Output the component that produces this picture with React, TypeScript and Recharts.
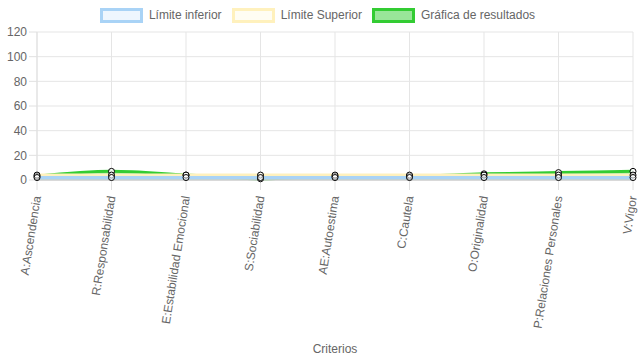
import React from 'react';
import { ComposedChart, Area, XAxis, YAxis, CartesianGrid } from 'recharts';

const categories = [
  'A:Ascendencia',
  'R:Responsabilidad',
  'E:Estabilidad Emocional',
  'S:Sociabilidad',
  'AE:Autoestima',
  'C:Cautela',
  'O:Originalidad',
  'P:Relaciones Personales',
  'V:Vigor',
];
const limiteInferior = [2, 2, 2, 2, 2, 2, 2, 2, 2];
const limiteSuperior = [4, 4, 4, 4, 4, 4, 4, 4, 4];
const resultados = [3, 7, 4, 1, 3, 3, 5, 6, 7];
const yTicks = [0, 20, 40, 60, 80, 100, 120];

const data = categories.map((c, i) => ({
  name: c,
  inf: limiteInferior[i],
  sup: limiteSuperior[i],
  res: resultados[i],
}));

const FONT = '"Liberation Sans", Arial, Helvetica, sans-serif';

const legendItems = [
  { label: 'Límite inferior', stroke: '#a9d3f6', fill: '#eef6fe' },
  { label: 'Límite Superior', stroke: '#fff1bd', fill: '#fffdf3' },
  { label: 'Gráfica de resultados', stroke: '#33cc33', fill: '#99e699' },
];

const LegendContent = () => (
  <div style={{ position: 'absolute', left: 3, top: 0, width: 639, display: 'flex', justifyContent: 'center', fontFamily: FONT, fontSize: 12, color: '#666', height: 30, alignItems: 'center' }}>
    {legendItems.map((it) => (
      <div key={it.label} style={{ display: 'flex', alignItems: 'center', marginRight: 10, marginLeft: 0 }}>
        <div style={{ width: 37, height: 9, border: `3px solid ${it.stroke}`, background: it.fill, marginRight: 6 }} />
        <span>{it.label}</span>
      </div>
    ))}
  </div>
);

const XTick = (props: any) => {
  const { x, y, payload } = props;
  return (
    <g transform={`translate(${x},${y + 4})`}>
      <text
        x={0}
        y={0}
        dy={4}
        textAnchor="end"
        transform="rotate(-81)"
        fill="#666"
        fontSize={12}
        fontFamily={FONT}
      >
        {payload.value}
      </text>
    </g>
  );
};

export default function App() {
  return (
    <div style={{ position: 'absolute', left: 0, top: 0, width: 639, height: 360 }}>
      <ComposedChart width={639} height={360} data={data} margin={{ top: 32, right: 6, bottom: 0, left: 0 }}>
        <CartesianGrid stroke="#e5e5e5" vertical={true} horizontal={true} />
        <XAxis
          dataKey="name"
          interval={0}
          height={180}
          tick={<XTick />}
          tickLine={{ stroke: '#e0e0e0' }}
          tickSize={10}
          axisLine={{ stroke: '#bfbfbf' }}
          label={{ value: 'Criterios', position: 'insideBottom', offset: 7, fill: '#666', fontSize: 12, fontFamily: FONT }}
        />
        <YAxis
          domain={[0, 120]}
          ticks={yTicks}
          interval={0}
          width={37}
          tick={{ fill: '#666', fontSize: 12, fontFamily: FONT }}
          tickLine={{ stroke: '#e0e0e0' }}
          tickSize={8}
          axisLine={{ stroke: '#e0e0e0' }}
        />
        <Area
          type="monotone"
          dataKey="res"
          stroke="#33cc33"
          strokeWidth={3}
          fill="#99e699"
          fillOpacity={0.9}
          dot={{ r: 3, fill: '#fff', stroke: '#000', strokeWidth: 1 }}
          isAnimationActive={false}
        />
        <Area
          type="monotone"
          dataKey="sup"
          stroke="#fff1bd"
          strokeWidth={3}
          fill="#fffdf3"
          fillOpacity={0.6}
          dot={{ r: 3, fill: '#fff', stroke: '#000', strokeWidth: 1 }}
          isAnimationActive={false}
        />
        <Area
          type="monotone"
          dataKey="inf"
          stroke="#a9d3f6"
          strokeWidth={3}
          fill="#b9dcf8"
          fillOpacity={0.6}
          dot={{ r: 3, fill: '#fff', stroke: '#000', strokeWidth: 1 }}
          isAnimationActive={false}
        />
      </ComposedChart>
      <LegendContent />
    </div>
  );
}
